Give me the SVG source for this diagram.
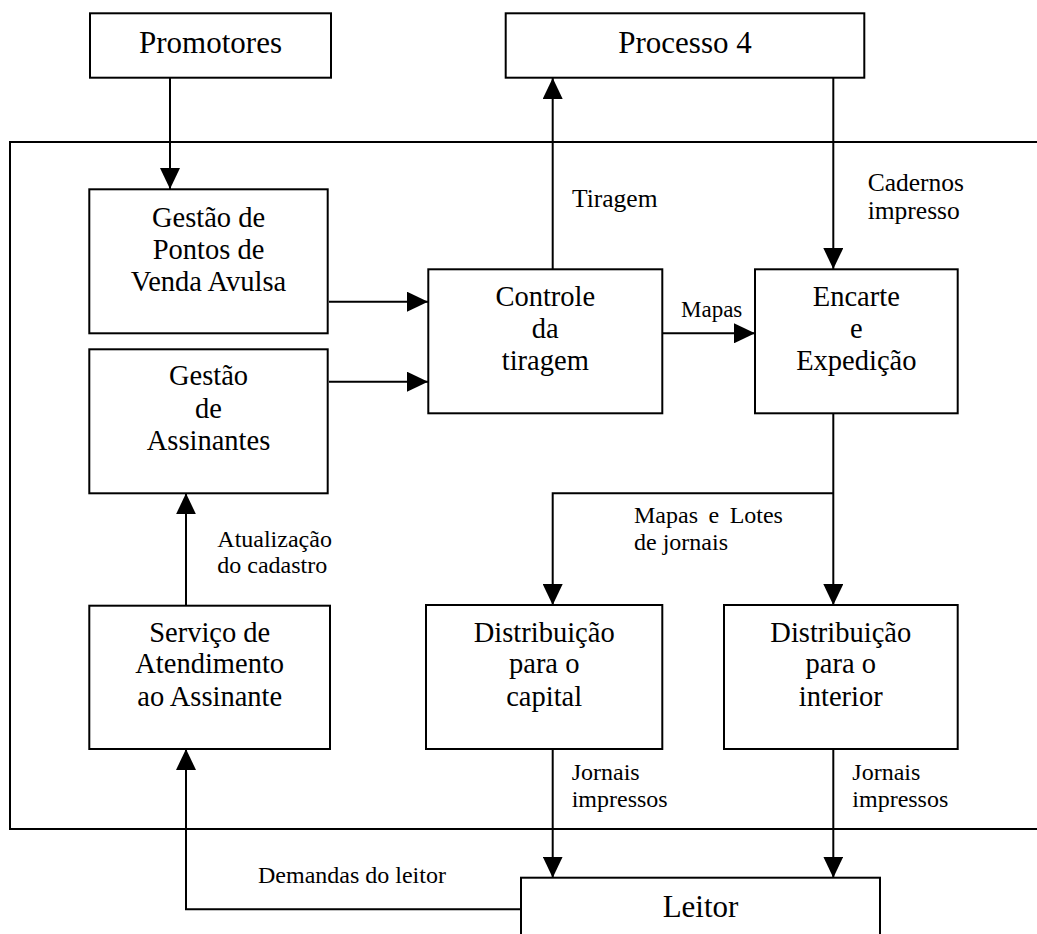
<svg xmlns="http://www.w3.org/2000/svg" width="1037" height="934" viewBox="0 0 1037 934">
<defs>
<marker id="ah" markerUnits="userSpaceOnUse" markerWidth="21" markerHeight="20" viewBox="0 0 21 20" refX="21" refY="10" orient="auto">
<path d="M0,0 L21,10 L0,20 z" fill="#000"/>
</marker>
</defs>
<rect width="1037" height="934" fill="#fff"/>
<g id="frame" fill="none" stroke="#000" stroke-width="2">
<path d="M1037,142 H10 V829 H1037"/>
</g>
<g id="connectors">
<g fill="none" stroke="#000" stroke-width="2" marker-end="url(#ah)">
<path d="M170,78 V189"/>
<path d="M329,301.7 H428"/>
<path d="M329,381.7 H428"/>
<path d="M552.7,269 V78"/>
<path d="M833.3,78 V269"/>
<path d="M662.3,333.3 H755"/>
<path d="M833.3,413.3 V605"/>
<path d="M833.3,493.3 H552.7 V605"/>
<path d="M186,605.7 V493.3"/>
<path d="M552.7,749 V877.7"/>
<path d="M833.3,749 V877.7"/>
<path d="M521,909.3 H186 V749"/>
</g>
<text x="572" y="206.7" font-family="Liberation Serif" font-size="25.5">Tiragem</text>
<text x="867.7" y="190.7" font-family="Liberation Serif" font-size="25.5">Cadernos</text>
<text x="867.7" y="218.5" font-family="Liberation Serif" font-size="25.5">impresso</text>
<text x="681" y="316.7" font-family="Liberation Serif" font-size="23">Mapas</text>
<text x="634" y="523.3" font-family="Liberation Serif" font-size="24" word-spacing="4.5">Mapas e Lotes</text>
<text x="634" y="550" font-family="Liberation Serif" font-size="24">de jornais</text>
<text x="217.3" y="546.7" font-family="Liberation Serif" font-size="24">Atualização</text>
<text x="217.3" y="572.5" font-family="Liberation Serif" font-size="24">do cadastro</text>
<text x="571.7" y="780" font-family="Liberation Serif" font-size="24">Jornais</text>
<text x="571.7" y="806.7" font-family="Liberation Serif" font-size="24">impressos</text>
<text x="852.3" y="780" font-family="Liberation Serif" font-size="24">Jornais</text>
<text x="852.3" y="806.7" font-family="Liberation Serif" font-size="24">impressos</text>
<text x="258" y="883.3" font-family="Liberation Serif" font-size="24">Demandas do leitor</text>
</g>
<g id="promotores">
<rect x="90" y="13.3" width="241" height="64.4" fill="#fff" stroke="#000" stroke-width="2"/>
<text x="210.5" y="53.3" text-anchor="middle" font-family="Liberation Serif" font-size="31">Promotores</text>
</g>
<g id="processo4">
<rect x="505.7" y="13.3" width="358.6" height="64.4" fill="#fff" stroke="#000" stroke-width="2"/>
<text x="685" y="53.3" text-anchor="middle" font-family="Liberation Serif" font-size="31">Processo 4</text>
</g>
<g id="pontos">
<rect x="89.3" y="189.3" width="238.4" height="144" fill="#fff" stroke="#000" stroke-width="2"/>
<text x="208.5" y="226.7" text-anchor="middle" font-family="Liberation Serif" font-size="28.5">Gestão de</text>
<text x="208.5" y="259.3" text-anchor="middle" font-family="Liberation Serif" font-size="28.5">Pontos de</text>
<text x="208.5" y="291" text-anchor="middle" font-family="Liberation Serif" font-size="28.5">Venda Avulsa</text>
</g>
<g id="assinantes">
<rect x="89.3" y="349.3" width="238.4" height="144" fill="#fff" stroke="#000" stroke-width="2"/>
<text x="208.5" y="385" text-anchor="middle" font-family="Liberation Serif" font-size="28.5">Gestão</text>
<text x="208.5" y="417.7" text-anchor="middle" font-family="Liberation Serif" font-size="28.5">de</text>
<text x="208.5" y="450" text-anchor="middle" font-family="Liberation Serif" font-size="28.5">Assinantes</text>
</g>
<g id="controle">
<rect x="428.3" y="269.3" width="234" height="144" fill="#fff" stroke="#000" stroke-width="2"/>
<text x="545.3" y="306" text-anchor="middle" font-family="Liberation Serif" font-size="28.5">Controle</text>
<text x="545.3" y="338.3" text-anchor="middle" font-family="Liberation Serif" font-size="28.5">da</text>
<text x="545.3" y="370" text-anchor="middle" font-family="Liberation Serif" font-size="28.5">tiragem</text>
</g>
<g id="encarte">
<rect x="755" y="269.3" width="202.7" height="144" fill="#fff" stroke="#000" stroke-width="2"/>
<text x="856.3" y="306" text-anchor="middle" font-family="Liberation Serif" font-size="28.5">Encarte</text>
<text x="856.3" y="338.3" text-anchor="middle" font-family="Liberation Serif" font-size="28.5">e</text>
<text x="856.3" y="370" text-anchor="middle" font-family="Liberation Serif" font-size="28.5">Expedição</text>
</g>
<g id="servico">
<rect x="89.3" y="605.7" width="240.7" height="143.3" fill="#fff" stroke="#000" stroke-width="2"/>
<text x="209.7" y="641.7" text-anchor="middle" font-family="Liberation Serif" font-size="28.5">Serviço de</text>
<text x="209.7" y="673.3" text-anchor="middle" font-family="Liberation Serif" font-size="28.5">Atendimento</text>
<text x="209.7" y="705.7" text-anchor="middle" font-family="Liberation Serif" font-size="28.5">ao Assinante</text>
</g>
<g id="dist-capital">
<rect x="426" y="605" width="236.3" height="144" fill="#fff" stroke="#000" stroke-width="2"/>
<text x="544.2" y="641.7" text-anchor="middle" font-family="Liberation Serif" font-size="28.5">Distribuição</text>
<text x="544.2" y="673.3" text-anchor="middle" font-family="Liberation Serif" font-size="28.5">para o</text>
<text x="544.2" y="705.7" text-anchor="middle" font-family="Liberation Serif" font-size="28.5">capital</text>
</g>
<g id="dist-interior">
<rect x="724" y="605" width="233.7" height="144" fill="#fff" stroke="#000" stroke-width="2"/>
<text x="840.8" y="641.7" text-anchor="middle" font-family="Liberation Serif" font-size="28.5">Distribuição</text>
<text x="840.8" y="673.3" text-anchor="middle" font-family="Liberation Serif" font-size="28.5">para o</text>
<text x="840.8" y="705.7" text-anchor="middle" font-family="Liberation Serif" font-size="28.5">interior</text>
</g>
<g id="leitor">
<rect x="521" y="877.7" width="359" height="80" fill="#fff" stroke="#000" stroke-width="2"/>
<text x="700.5" y="916.7" text-anchor="middle" font-family="Liberation Serif" font-size="31">Leitor</text>
</g>
</svg>
